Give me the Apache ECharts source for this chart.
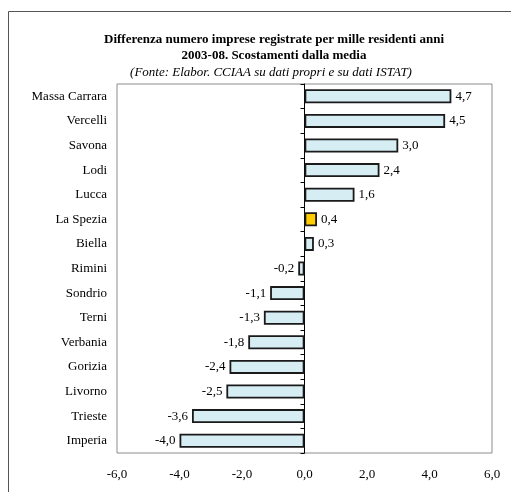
<!DOCTYPE html>
<html>
<head>
<meta charset="utf-8">
<script src="https://cdn.jsdelivr.net/npm/echarts@6/dist/echarts.min.js"></script>
<style>
  html, body { margin: 0; padding: 0; background: #fff; }
  #chart { width: 511px; height: 492px; }
</style>
</head>
<body>
<div id="chart"></div>
<script>
// Provinces, top to bottom
const provinces = ['Massa Carrara', 'Vercelli', 'Savona', 'Lodi', 'Lucca', 'La Spezia', 'Biella',
  'Rimini', 'Sondrio', 'Terni', 'Verbania', 'Gorizia', 'Livorno', 'Trieste', 'Imperia'];
// Deviation from the mean (registered firms per 1000 residents, 2003-08)
const deviations = [4.7, 4.5, 3.0, 2.4, 1.6, 0.4, 0.3, -0.2, -1.1, -1.3, -1.8, -2.4, -2.5, -3.6, -4.0];
const highlighted = 'La Spezia';
const xTicks = [-6, -4, -2, 0, 2, 4, 6];

const serif = '"Liberation Serif", "Times New Roman", serif';
const fmt = v => v.toFixed(1).replace('.', ',');

const barData = provinces.map((name, i) => {
  const v = deviations[i];
  return {
    value: v,
    itemStyle: { color: name === highlighted ? '#ffcc00' : '#d5edf3' },
    label: { position: v >= 0 ? 'right' : 'left' }
  };
});

const chart = echarts.init(document.getElementById('chart'), null, { renderer: 'canvas' });
chart.setOption({
  animation: false,
  backgroundColor: '#fff',
  graphic: [{
    type: 'rect',
    shape: { x: 8.5, y: 11.5, width: 520, height: 500 },
    style: { fill: 'none', stroke: '#555', lineWidth: 1 },
    silent: true
  }],
  title: [{
    text: 'Differenza numero imprese registrate per mille residenti anni\n2003-08. Scostamenti dalla media',
    left: 269, top: 27, textAlign: 'center',
    textStyle: { fontFamily: serif, fontSize: 13, fontWeight: 'bold', color: '#000', lineHeight: 16 }
  }, {
    text: '(Fonte: Elabor. CCIAA su dati propri e su dati ISTAT)',
    left: 266, top: 61, textAlign: 'center',
    textStyle: { fontFamily: serif, fontSize: 13, fontStyle: 'italic', fontWeight: 'normal', color: '#000' }
  }],
  grid: {
    left: 117, right: 19, top: 84, bottom: 39,
    show: true, borderColor: '#8c8c8c', borderWidth: 1, backgroundColor: 'transparent'
  },
  xAxis: {
    type: 'value', min: xTicks[0], max: xTicks[xTicks.length - 1], interval: 2,
    axisLine: { show: false }, axisTick: { show: false }, splitLine: { show: false },
    axisLabel: { formatter: fmt, margin: 15, fontFamily: serif, fontSize: 13, color: '#000' }
  },
  yAxis: [{
    type: 'category', data: provinces, inverse: true,
    axisLine: { show: false, onZero: false }, axisTick: { show: false },
    axisLabel: { margin: 10, fontFamily: serif, fontSize: 13, color: '#000' }
  }, {
    type: 'category', data: provinces, inverse: true, position: 'left',
    axisLine: { show: true, onZero: true, lineStyle: { color: '#000', width: 1 } },
    axisTick: { show: true, length: 4, lineStyle: { color: '#000' } },
    axisLabel: { show: false }
  }],
  series: [{
    type: 'bar', yAxisIndex: 0, data: barData, barWidth: 14,
    itemStyle: { borderColor: '#1a1a1a', borderWidth: 1.8 },
    label: { show: true, formatter: p => fmt(p.value), distance: 4,
      fontFamily: serif, fontSize: 13, color: '#000' }
  }]
});
</script>
</body>
</html>
